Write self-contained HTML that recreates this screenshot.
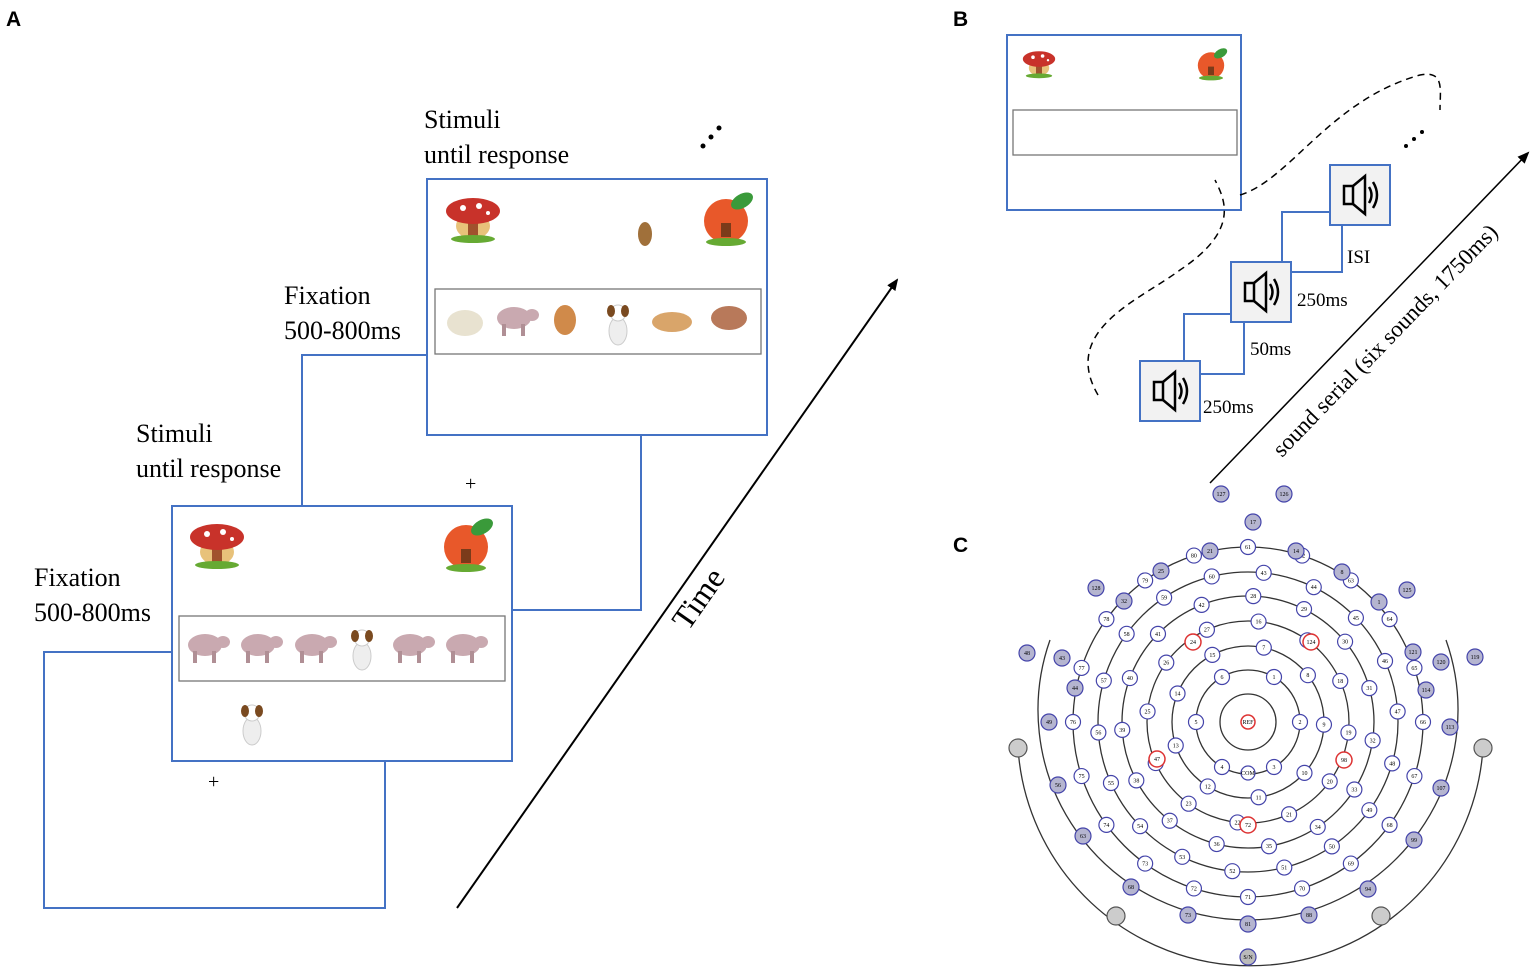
<!DOCTYPE html>
<html><head><meta charset="utf-8"><style>
html,body{margin:0;padding:0;background:#fff}
body{width:1535px;height:974px;position:relative;overflow:hidden;font-family:"Liberation Serif",serif}
</style></head><body>
<svg width="1535" height="974" viewBox="0 0 1535 974" xmlns="http://www.w3.org/2000/svg" id="s">
<defs>
<marker id="ah" markerWidth="12" markerHeight="10" refX="10" refY="5" orient="auto" markerUnits="userSpaceOnUse"><path d="M0,0 L12,5 L0,10 z" fill="#000"/></marker>
<g id="mush"><ellipse cx="0" cy="10" rx="17" ry="13" fill="#e8c27a"/><rect x="-5" y="6" width="10" height="14" fill="#a0522d"/><ellipse cx="0" cy="-5" rx="27" ry="13" fill="#c8322a"/><circle cx="-10" cy="-8" r="3" fill="#fff"/><circle cx="6" cy="-10" r="3" fill="#fff"/><circle cx="15" cy="-3" r="2" fill="#fff"/><ellipse cx="0" cy="23" rx="22" ry="4" fill="#6a3"/></g>
<g id="apple"><circle cx="0" cy="4" r="22" fill="#e8582a"/><rect x="-5" y="6" width="10" height="14" fill="#7b3b1a"/><ellipse cx="16" cy="-16" rx="12" ry="7" fill="#3a9a3a" transform="rotate(-30 16 -16)"/><ellipse cx="0" cy="25" rx="20" ry="4" fill="#6a3"/></g>
<g id="pig"><ellipse cx="0" cy="0" rx="17" ry="11" fill="#c9a9b0"/><rect x="-12" y="6" width="4" height="12" fill="#b08f95"/><rect x="7" y="6" width="4" height="12" fill="#b08f95"/><ellipse cx="18" cy="-3" rx="7" ry="6" fill="#c9a9b0"/></g>
<g id="dog"><ellipse cx="0" cy="6" rx="9" ry="14" fill="#eee" stroke="#ccc"/><ellipse cx="0" cy="-12" rx="8" ry="8" fill="#fff" stroke="#ccc"/><ellipse cx="-7" cy="-14" rx="4" ry="6" fill="#7a4a20"/><ellipse cx="7" cy="-14" rx="4" ry="6" fill="#7a4a20"/></g>
<g id="spk"><rect x="-14" y="-9" width="9" height="18" fill="none" stroke="#000" stroke-width="2.5"/><path d="M-5,-9 L7,-19 L7,19 L-5,9" fill="none" stroke="#000" stroke-width="2.5"/><path d="M11,-8 Q16,0 11,8 M15,-13 Q23,0 15,13" fill="none" stroke="#000" stroke-width="2.5"/></g>
</defs>
<g font-family="Liberation Sans, sans-serif" font-weight="bold" font-size="21"><text x="6" y="26">A</text><text x="953" y="26">B</text><text x="953" y="552">C</text></g>
<g fill="none" stroke="#4472c4" stroke-width="2">
<path d="M172,652 H44 V908 H385 V761"/>
<rect x="172" y="506" width="340" height="255" fill="#fff"/>
<path d="M302,506 V355 H427 M641,435 V610 H512"/>
<rect x="427" y="179" width="340" height="256" fill="#fff"/>
</g>
<rect x="179" y="616" width="326" height="65" fill="none" stroke="#777" stroke-width="1.3"/>
<rect x="435" y="289" width="326" height="65" fill="none" stroke="#777" stroke-width="1.3"/>
<use href="#mush" x="217" y="542"/><use href="#apple" x="466" y="543"/>
<use href="#mush" x="473" y="216"/><use href="#apple" x="726" y="217"/>
<use href="#pig" x="205" y="645"/><use href="#pig" x="258" y="645"/><use href="#pig" x="312" y="645"/><use href="#dog" x="362" y="650"/><use href="#pig" x="410" y="645"/><use href="#pig" x="463" y="645"/>
<use href="#dog" x="252" y="725"/>
<ellipse cx="465" cy="323" rx="18" ry="13" fill="#e8e2d0"/><use href="#pig" x="514" y="318"/><ellipse cx="565" cy="320" rx="11" ry="15" fill="#d08a4a"/><use href="#dog" x="618" y="325"/><ellipse cx="672" cy="322" rx="20" ry="10" fill="#d9a56a"/><ellipse cx="729" cy="318" rx="18" ry="12" fill="#b8795a"/>
<ellipse cx="645" cy="234" rx="7" ry="12" fill="#a0703a"/>
<g font-size="26"><text x="34" y="586">Fixation</text><text x="34" y="621">500-800ms</text>
<text x="136" y="442">Stimuli</text><text x="136" y="477">until response</text>
<text x="284" y="304">Fixation</text><text x="284" y="339">500-800ms</text>
<text x="424" y="128">Stimuli</text><text x="424" y="163">until response</text></g>
<text x="208" y="788" font-size="20">+</text><text x="465" y="490" font-size="20">+</text>
<g fill="#000"><circle cx="703" cy="146" r="2.5"/><circle cx="711" cy="137" r="2.5"/><circle cx="719" cy="128" r="2.5"/></g>
<line x1="457" y1="908" x2="897" y2="280" stroke="#000" stroke-width="2" marker-end="url(#ah)"/>
<text x="0" y="0" font-size="32" transform="translate(688,632) rotate(-55)">Time</text>
<!-- B -->
<rect x="1007" y="35" width="234" height="175" fill="none" stroke="#4472c4" stroke-width="2"/>
<rect x="1013" y="110" width="224" height="45" fill="none" stroke="#777" stroke-width="1.3"/>
<g transform="translate(1039,62) scale(0.6)"><use href="#mush"/></g><g transform="translate(1211,63) scale(0.6)"><use href="#apple"/></g>
<path d="M1098,395 C1060,330 1140,300 1180,270 C1240,230 1225,200 1215,180 M1240,195 C1290,180 1330,100 1420,75 C1445,70 1440,90 1440,110" fill="none" stroke="#000" stroke-width="1.5" stroke-dasharray="7,5"/>
<g fill="#fff" stroke="#4472c4" stroke-width="2">
<rect x="1184" y="314" width="60" height="60"/><rect x="1282" y="212" width="60" height="60"/>
<rect x="1140" y="361" width="60" height="60" fill="#f2f2f2"/><rect x="1231" y="262" width="60" height="60" fill="#f2f2f2"/><rect x="1330" y="165" width="60" height="60" fill="#f2f2f2"/>
</g>
<use href="#spk" x="1168" y="391"/><use href="#spk" x="1259" y="292"/><use href="#spk" x="1358" y="195"/>
<g font-size="19"><text x="1203" y="413">250ms</text><text x="1250" y="355">50ms</text><text x="1297" y="306">250ms</text><text x="1347" y="263">ISI</text></g>
<g fill="#000"><circle cx="1406" cy="146" r="2"/><circle cx="1414" cy="139" r="2"/><circle cx="1422" cy="132" r="2"/></g>
<line x1="1210" y1="483" x2="1528" y2="153" stroke="#000" stroke-width="1.5" marker-end="url(#ah)"/>
<text font-size="23" transform="translate(1282,458) rotate(-46)">sound serial (six sounds, 1750ms)</text>
<!-- C -->
<g fill="none" stroke="#333" stroke-width="1.3">
<circle cx="1248" cy="722" r="28"/><circle cx="1248" cy="722" r="52"/><circle cx="1248" cy="722" r="76"/><circle cx="1248" cy="722" r="101"/><circle cx="1248" cy="722" r="126"/><circle cx="1248" cy="722" r="150"/><circle cx="1248" cy="722" r="175"/>
<path d="M1050,640 A210,210 0 1,0 1446,640"/>
<path d="M1018,748 A233,233 0 0,0 1483,748"/>
</g>
<g id="el"></g>
<g font-size="6" text-anchor="middle" font-family="Liberation Serif,serif">
<circle cx="1248" cy="722" r="7" fill="#fff" stroke="#d33" stroke-width="1.5"/><text x="1248" y="724">REF</text>
<circle cx="1248" cy="773" r="7" fill="#fff" stroke="#44a" stroke-width="1.2"/><text x="1248" y="775">COM</text>
<circle cx="1248" cy="957" r="8" fill="#bbb" stroke="#44a" stroke-width="1.2"/><text x="1248" y="959">S/N</text>
<circle cx="1193" cy="642" r="8" fill="#fff" stroke="#d33" stroke-width="1.5"/><text x="1193" y="644">24</text>
<circle cx="1311" cy="642" r="8" fill="#fff" stroke="#d33" stroke-width="1.5"/><text x="1311" y="644">124</text>
<circle cx="1157" cy="759" r="8" fill="#fff" stroke="#d33" stroke-width="1.5"/><text x="1157" y="761">47</text>
<circle cx="1344" cy="760" r="8" fill="#fff" stroke="#d33" stroke-width="1.5"/><text x="1344" y="762">98</text>
<circle cx="1248" cy="825" r="8" fill="#fff" stroke="#d33" stroke-width="1.5"/><text x="1248" y="827">72</text>
</g>
</svg>
<script>
var NS="http://www.w3.org/2000/svg",cx=1248,cy=722;
var el=document.getElementById("el");
function dot(x,y,r,fill,lab,stroke){var g=document.createElementNS(NS,"circle");g.setAttribute("cx",x);g.setAttribute("cy",y);g.setAttribute("r",r);g.setAttribute("fill",fill);g.setAttribute("stroke",stroke||"#44a");g.setAttribute("stroke-width","1.2");el.appendChild(g);
 if(lab){var tx=document.createElementNS(NS,"text");tx.setAttribute("x",x);tx.setAttribute("y",y+2);tx.setAttribute("font-size","6");tx.setAttribute("text-anchor","middle");tx.textContent=lab;el.appendChild(tx);}}
var n=1;
var rings=[[52,6,0.5],[76,9,0.3],[101,12,0.2],[126,15,0.1],[150,18,0.3],[175,20,0]];
rings.forEach(function(r){for(var j=0;j<r[1];j++){var t=(j+r[2])/r[1]*2*Math.PI;var x=cx+r[0]*Math.sin(t),y=cy-r[0]*Math.cos(t);
 dot(x,y,7.5,"#fff",String(n++));}});
[[1027,653,"48"],[1062,658,"43"],[1075,688,"44"],[1049,722,"49"],[1058,785,"56"],[1083,836,"63"],[1131,887,"68"],[1188,915,"73"],[1248,924,"81"],[1309,915,"88"],[1368,889,"94"],[1414,840,"99"],[1441,788,"107"],[1450,727,"113"],[1426,690,"114"],[1441,662,"120"],[1475,657,"119"],[1413,652,"121"],[1407,590,"125"],[1379,602,"1"],[1342,572,"8"],[1296,551,"14"],[1210,551,"21"],[1161,571,"25"],[1124,601,"32"],[1096,588,"128"],[1221,494,"127"],[1284,494,"126"],[1253,522,"17"]].forEach(function(p){dot(p[0],p[1],8,"#b5b5d0",p[2]);});
[[1018,748],[1483,748],[1116,916],[1381,916]].forEach(function(p){dot(p[0],p[1],9,"#ccc","", "#555");});
</script>
</body></html>
